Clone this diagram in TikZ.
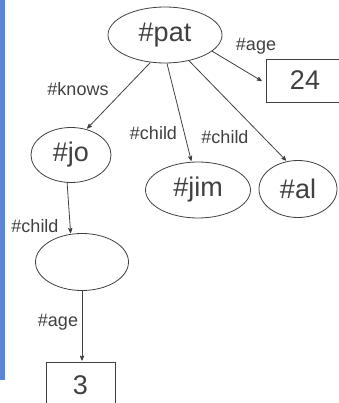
\documentclass[tikz,border=0pt]{standalone}
\usepackage{fontspec}
\setmainfont{Liberation Sans}
\usetikzlibrary{arrows,shapes.geometric}
\definecolor{barblue}{RGB}{91,133,216}
\definecolor{inkgray}{RGB}{64,64,64}

\begin{document}
\begin{tikzpicture}[x=1pt,y=-1pt,>=stealth',line width=0.8pt]
		\tikzstyle{res}=[ellipse, draw=inkgray, inner sep=0pt, text=inkgray, font=\fontsize{27}{30}\selectfont]
		\tikzstyle{lit}=[rectangle, draw=inkgray, inner sep=0pt, text=inkgray, font=\fontsize{27}{30}\selectfont]
		\tikzstyle{prop}=[text=inkgray, inner sep=0pt, font=\fontsize{18}{20}\selectfont]
		\tikzstyle{arc}=[->, draw=inkgray, shorten >=1pt]

		\useasboundingbox (0,0) rectangle (338,403);
		\fill[barblue] (0,0) rectangle (5,380);

		% resources
		\node [res, minimum width=114pt, minimum height=56pt] (pat) at (165,35) {\#pat};
		\node [res, minimum width=80pt, minimum height=55pt] (jo) at (71,155) {\#jo};
		\node [res, minimum width=105pt, minimum height=56pt] (jim) at (198,190) {\#jim};
		\node [res, minimum width=78pt, minimum height=57pt] (al) at (298,189) {\#al};
		\node [res, minimum width=93pt, minimum height=57pt] (blank) at (82,262) {};

		% literals
		\node [lit, minimum width=78pt, minimum height=43pt] (b24) at (305,80.5) {24};
		\node [lit, minimum width=69pt, minimum height=46pt] (b3) at (80.5,385) {3};

		% properties
		\draw [arc] (pat.-19.5) -- ([xshift=-3pt,yshift=-1pt]b24.west);
		\draw [arc] (pat.242) -- (jo.59);
		\draw [arc] (pat.-86) -- (jim.103);
		\draw [arc] (pat.-47) -- (al.112);
		\draw [arc] (jo.-98) -- (blank.112);
		\draw [arc] (blank.south) -- (blank.south |- b3.north);

		\node [prop] (lage) at (256,46) {\#age};
		\node [prop] (lknows) at (78,89) {\#knows};
		\node [prop] (lchild1) at (153.5,133) {\#child};
		\node [prop] (lchild2) at (225,137) {\#child};
		\node [prop] (lchild3) at (35,226) {\#child};
		\node [prop] (lage2) at (58,322) {\#age};
	\end{tikzpicture}
\end{document}
